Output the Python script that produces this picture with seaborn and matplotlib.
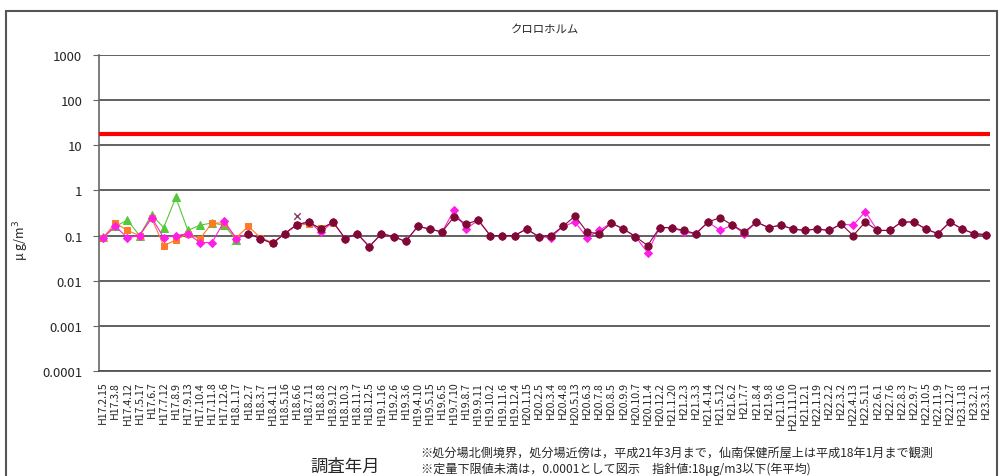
import numpy as np
import pandas as pd
import matplotlib
matplotlib.use('Agg')
import matplotlib.pyplot as plt
import seaborn as sns
from matplotlib.patches import Rectangle
from matplotlib.ticker import FixedLocator

nan = np.nan

#%% data
title = 'クロロホルム'
guide_value = 18   # 指針値 ug/m3

date_labels = [
    'H17.2.15', 'H17.3.8', 'H17.4.12', 'H17.5.17', 'H17.6.7', 'H17.7.12', 'H17.8.9',
    'H17.9.13', 'H17.10.4', 'H17.11.8', 'H17.12.6', 'H18.1.17', 'H18.2.7', 'H18.3.7',
    'H18.4.11', 'H18.5.16', 'H18.6.6', 'H18.7.11', 'H18.8.8', 'H18.9.12', 'H18.10.3',
    'H18.11.7', 'H18.12.5', 'H19.1.16', 'H19.2.6', 'H19.3.6', 'H19.4.10', 'H19.5.15',
    'H19.6.5', 'H19.7.10', 'H19.8.7', 'H19.9.11', 'H19.10.2', 'H19.11.6', 'H19.12.4',
    'H20.1.15', 'H20.2.5', 'H20.3.4', 'H20.4.8', 'H20.5.13', 'H20.6.3', 'H20.7.8',
    'H20.8.5', 'H20.9.9', 'H20.10.7', 'H20.11.4', 'H20.12.2', 'H21.1.20', 'H21.2.3',
    'H21.3.3', 'H21.4.14', 'H21.5.12', 'H21.6.2', 'H21.7.7', 'H21.8.4', 'H21.9.8',
    'H21.10.6', 'H21.11.10', 'H21.12.1', 'H22.1.19', 'H22.2.2', 'H22.3.2', 'H22.4.13',
    'H22.5.11', 'H22.6.1', 'H22.7.6', 'H22.8.3', 'H22.9.7', 'H22.10.5', 'H22.11.9',
    'H22.12.7', 'H23.1.18', 'H23.2.1', 'H23.3.1',
]

green_vals = [0.095, 0.16, 0.22, 0.10, 0.29, 0.15, 0.70, 0.13, 0.17, 0.19, 0.17, 0.08]

orange_vals = [0.09, 0.19, 0.13, 0.10, 0.24, 0.06, 0.08, 0.11, 0.085, 0.19, 0.19, 0.09,
               0.16, 0.09, 0.07, 0.11, 0.17, 0.18, 0.15, 0.19]

pink_vals = [0.09, 0.16, 0.09, 0.10, 0.25, 0.09, 0.10, 0.11, 0.07, 0.07, 0.21, 0.085,
             0.11, 0.086, 0.067, 0.11, 0.175, 0.20, 0.12, 0.20, 0.086, 0.11, 0.057, 0.11,
             0.095, 0.074, 0.16, 0.14, 0.12, 0.36, 0.14, 0.22, 0.10, 0.10, 0.10, 0.14,
             0.095, 0.09, 0.16, 0.20, 0.09, 0.13, 0.19, 0.14, 0.095, 0.042, 0.15, 0.15,
             0.12, 0.11, 0.20, 0.13, 0.17, 0.11, 0.20, 0.15, 0.17, 0.14, 0.13, 0.14,
             0.13, 0.18, 0.17, 0.34, 0.13, 0.13, 0.20, 0.20, 0.14, 0.11, 0.20, 0.14,
             0.11, 0.105]

darkred_vals = [0.11, 0.086, 0.067, 0.11, 0.175, 0.20, 0.14, 0.20, 0.086, 0.11, 0.057,
                0.11, 0.095, 0.074, 0.16, 0.14, 0.12, 0.26, 0.18, 0.22, 0.10, 0.10, 0.10,
                0.14, 0.095, 0.10, 0.16, 0.27, 0.12, 0.11, 0.19, 0.14, 0.095, 0.06, 0.15,
                0.15, 0.13, 0.11, 0.20, 0.25, 0.17, 0.12, 0.20, 0.15, 0.17, 0.14, 0.13,
                0.14, 0.13, 0.18, 0.10, 0.20, 0.13, 0.13, 0.20, 0.20, 0.14, 0.11, 0.20,
                0.14, 0.11, 0.105]
darkred_start = 12

extra_idx = [16]
extra_vals = [0.27]

ytick_vals = [0.0001, 0.001, 0.01, 0.1, 1, 10, 100, 1000]
ytick_text = ['0.0001', '0.001', '0.01', '0.1', '1', '10', '100', '1000']

note1 = '※処分場北側境界，処分場近傍は，平成21年3月まで，仙南保健所屋上は平成18年1月まで観測'
note2 = '※定量下限値未満は，0.0001として図示　指針値:18μg/m3以下(年平均)'

#%% graph
sns.set_style('white')
plt.rcParams['font.family'] = ['Noto Sans CJK JP', 'DejaVu Sans']

fig = plt.figure(figsize=(10.06, 4.77), dpi=100)
ax = fig.add_axes([0.0984, 0.2201, 0.8856, 0.6625])

n = len(date_labels)
idx = np.arange(n)


def draw(xs, ys, col, mk, ms=5):
    sns.lineplot(x=xs, y=ys, color=col, marker=mk, markersize=ms,
                 markeredgecolor=col, markerfacecolor=col, linewidth=0.8,
                 ax=ax, legend=False, sort=False)


draw(idx[:len(green_vals)], green_vals, '#55c83c', '^', 5.5)
draw(idx[:len(orange_vals)], orange_vals, '#ff7a26', 's', 4.8)
draw(idx[:len(pink_vals)], pink_vals, '#ff1ee6', 'D', 4.5)
draw(idx[darkred_start:darkred_start + len(darkred_vals)], darkred_vals, '#7d0a32', 'o', 5.2)
sns.scatterplot(x=extra_idx, y=extra_vals, marker='x', color='#8a3a6a', s=22,
                linewidth=1, ax=ax, legend=False)

ax.axhline(guide_value, color='#ff0000', lw=3, zorder=5)

ax.set_yscale('log')
ax.set_ylim(0.0001, 1000)
ax.set_xlim(-0.35, n - 1 + 0.3)
ax.set_yticks(ytick_vals)
ax.set_yticklabels(ytick_text, fontsize=9.5)
ax.yaxis.set_minor_locator(FixedLocator([]))
for v in ytick_vals:
    ax.axhline(v, color='#555555', lw=1.3, zorder=1)

ax.set_xticks(idx)
ax.set_xticklabels(date_labels, rotation=90, fontsize=7.6)
ax.xaxis.set_minor_locator(FixedLocator(idx[:-1] + 0.5))
ax.tick_params(axis='x', which='major', length=0, pad=7)
ax.tick_params(axis='x', which='minor', direction='in', length=4, color='#666666')
ax.tick_params(axis='y', which='major', direction='out', length=4, color='#666666',
               left=True, pad=8)

for s in ['top', 'right']:
    ax.spines[s].set_visible(False)
ax.spines['left'].set_color('#666666')
ax.spines['bottom'].set_color('#555555')
ax.spines['left'].set_linewidth(1.2)
ax.spines['bottom'].set_linewidth(1.3)

ax.set_xlabel('')
ax.set_ylabel('μ g/m$^3$', fontsize=9)
ax.yaxis.set_label_coords(-0.076, 0.418)

fig.text(0.542, 0.937, title, ha='center', va='center', fontsize=8.2)
fig.text(0.343, 0.022, '調査年月', ha='center', va='center', fontsize=12.5)
fig.text(0.418, 0.050, note1, ha='left', va='center', fontsize=8.7)
fig.text(0.418, 0.017, note2, ha='left', va='center', fontsize=8.7)

# outer chart border
fig.patches.append(Rectangle((0.006, -0.05), 0.985, 1.025, transform=fig.transFigure,
                             fill=False, edgecolor='#555555', lw=1.5))

plt.savefig('out.png', dpi=100)
